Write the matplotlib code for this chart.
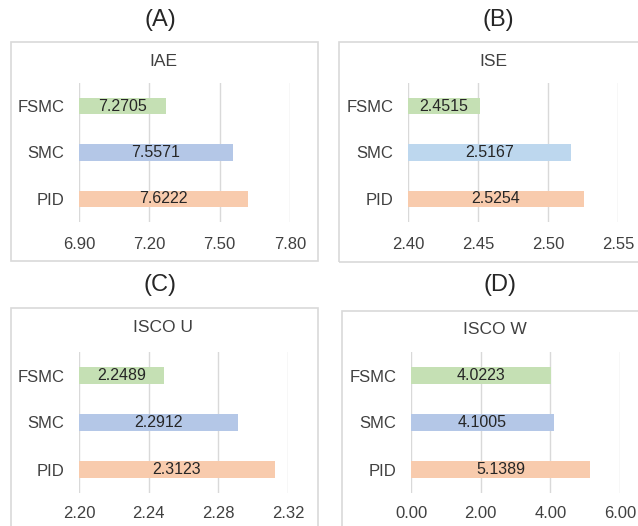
import matplotlib
matplotlib.use('Agg')
import matplotlib.pyplot as plt
from matplotlib.patches import Rectangle

plt.rcParams['font.family'] = ['Liberation Sans', 'DejaVu Sans']

# data
categories = ['PID', 'SMC', 'FSMC']
iae = [7.6222, 7.5571, 7.2705]
ise = [2.5254, 2.5167, 2.4515]
isco_u = [2.3123, 2.2912, 2.2489]
isco_w = [5.1389, 4.1005, 4.0223]

W, H = 638, 526
fig = plt.figure(figsize=(W / 100, H / 100), dpi=100)

text_col = '#404040'
grid_col = '#d9d9d9'


def px_axes(x0, y0, x1, y1):
    # pixel box (top-left origin) -> figure axes
    return fig.add_axes([x0 / W, 1 - y1 / H, (x1 - x0) / W, (y1 - y0) / H])


def box(x0, y0, x1, y1):
    fig.patches.append(Rectangle((x0 / W, 1 - y1 / H), (x1 - x0) / W, (y1 - y0) / H,
                                 transform=fig.transFigure, fill=False,
                                 edgecolor=grid_col, linewidth=1.2))


def panel(letter, title, vals, colors, xlim, ticks, frame, area, letter_pos, title_pos, xpad):
    box(*frame)
    fig.text(letter_pos[0] / W, 1 - letter_pos[1] / H, letter, ha='center', va='center',
             fontsize=17, color='#262626')
    fig.text(title_pos[0] / W, 1 - title_pos[1] / H, title, ha='center', va='center',
             fontsize=12.5, color=text_col)
    ax = px_axes(*area)
    y = range(len(categories))
    left = xlim[0]
    ax.barh(y, [v - left for v in vals], left=left, height=0.35, color=colors, zorder=2)
    for yi, v in zip(y, vals):
        ax.text((left + v) / 2, yi, '{:.4f}'.format(v), ha='center', va='center',
                fontsize=11.5, color='#262626', zorder=3)
    ax.set_xlim(xlim)
    ax.set_ylim(-0.5, 2.5)
    ax.set_xticks(ticks)
    ax.set_xticklabels(['{:.2f}'.format(t) for t in ticks])
    ax.set_yticks(list(y))
    ax.set_yticklabels(categories)
    ax.tick_params(length=0, labelsize=12, labelcolor=text_col)
    ax.tick_params(axis='x', pad=xpad)
    ax.tick_params(axis='y', pad=10.5)
    ax.grid(axis='x', color=grid_col, linewidth=1, zorder=0)
    for s in ax.spines.values():
        s.set_visible(False)
    ax.patch.set_alpha(0)
    return ax


green = '#c5e0b4'
blue = '#b4c7e7'
lblue = '#bdd7ee'
orange = '#f8cbad'

panel('(A)', 'IAE', iae, [orange, blue, green], (6.9, 7.8), [6.9, 7.2, 7.5, 7.8],
      (11, 42, 318, 261), (79, 83, 290, 222), (160, 20), (163, 62), 10.5)
panel('(B)', 'ISE', ise, [orange, lblue, green], (2.40, 2.55), [2.40, 2.45, 2.50, 2.55],
      (339, 42, 660, 262), (408, 83, 618, 222), (498, 20), (493, 61), 10.5)
panel('(C)', 'ISCO U', isco_u, [orange, blue, green], (2.20, 2.32), [2.20, 2.24, 2.28, 2.32],
      (11, 308, 318, 540), (79, 352, 288, 493), (160, 285), (163, 328), 9)
panel('(D)', 'ISCO W', isco_w, [orange, blue, green], (0, 6), [0, 2, 4, 6],
      (342, 311, 660, 540), (411, 352, 620, 493), (500, 285), (495, 330), 9)

fig.savefig('out.png', dpi=100)
